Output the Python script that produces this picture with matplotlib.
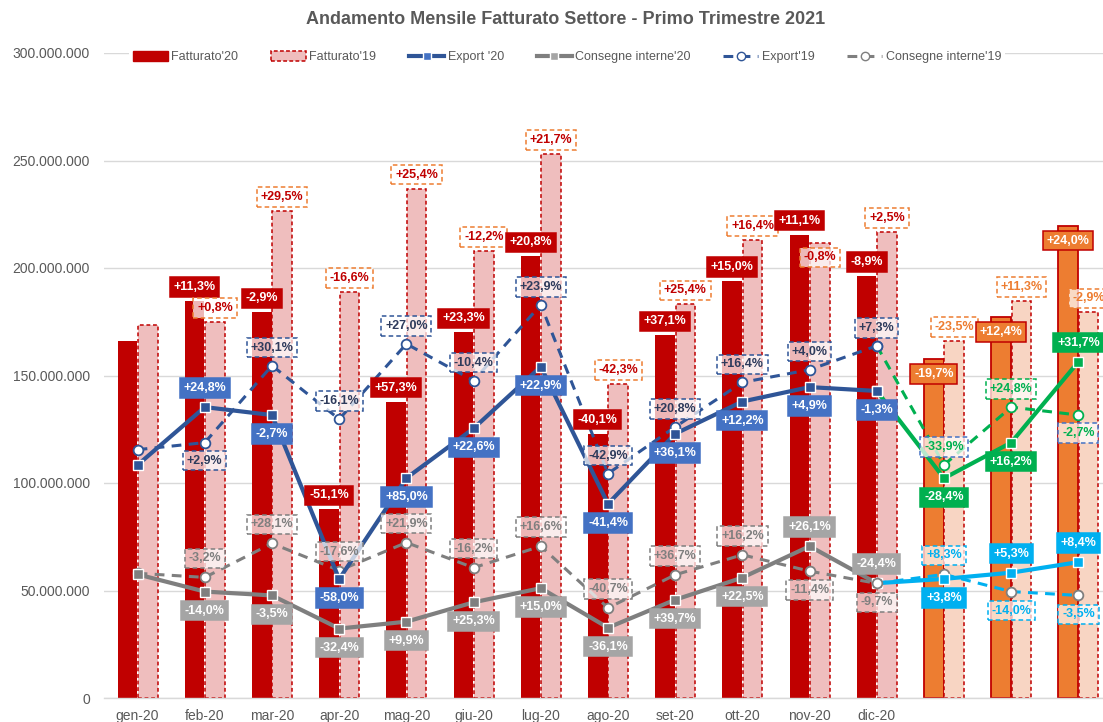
import matplotlib
matplotlib.use("Agg")
import matplotlib.pyplot as plt
from matplotlib import font_manager as fm
from matplotlib.patches import Patch
from matplotlib.lines import Line2D
from matplotlib.ticker import FuncFormatter
import numpy as np

# ---------------- DATA (values in millions of euro) ----------------
months = ['gen-20', 'feb-20', 'mar-20', 'apr-20', 'mag-20', 'giu-20',
          'lug-20', 'ago-20', 'set-20', 'ott-20', 'nov-20', 'dic-20']
months_21 = ['', '', '']  # first quarter 2021 (labels hidden in the original)

fatturato_20 = [166.0, 184.7, 179.4, 87.7, 137.9, 170.1, 205.4, 123.0, 168.7, 194.0, 215.5, 196.3]
fatturato_19 = [173.5, 174.9, 226.5, 188.9, 236.9, 208.0, 253.1, 146.0, 183.1, 213.1, 211.4, 216.7]
fatturato_21 = [157.6, 177.2, 219.7]
fatturato_20_q1 = [166.0, 184.7, 179.4]

export_20 = [108.4, 135.3, 131.6, 55.3, 102.3, 125.4, 154.1, 90.3, 122.9, 137.9, 144.6, 142.8]
export_19 = [115.5, 118.8, 154.6, 129.7, 164.7, 147.6, 182.9, 104.4, 126.1, 146.8, 152.7, 163.8]
export_21 = [102.2, 118.8, 156.4]
export_20_q1 = [108.4, 135.3, 131.6]

consegne_20 = [57.5, 49.5, 47.7, 32.3, 35.5, 44.5, 51.1, 32.7, 45.7, 56.0, 70.6, 53.4]
consegne_19 = [58.0, 56.1, 71.9, 59.3, 72.3, 60.6, 70.6, 41.9, 57.3, 66.6, 59.0, 53.3]
consegne_21 = [55.4, 58.3, 63.2]
consegne_20_q1 = [57.5, 49.5, 47.7]

lbl_fatt20 = ['', '+11,3%', '-2,9%', '-51,1%', '+57,3%', '+23,3%', '+20,8%', '-40,1%', '+37,1%', '+15,0%', '+11,1%', '-8,9%']
lbl_fatt19 = ['', '+0,8%', '+29,5%', '-16,6%', '+25,4%', '-12,2%', '+21,7%', '-42,3%', '+25,4%', '+16,4%', '-0,8%', '+2,5%']
lbl_fatt21 = ['-19,7%', '+12,4%', '+24,0%']
lbl_fatt20_q1 = ['-23,5%', '+11,3%', '-2,9%']
lbl_exp20 = ['', '+24,8%', '-2,7%', '-58,0%', '+85,0%', '+22,6%', '+22,9%', '-41,4%', '+36,1%', '+12,2%', '+4,9%', '-1,3%']
lbl_exp19 = ['', '+2,9%', '+30,1%', '-16,1%', '+27,0%', '-10,4%', '+23,9%', '-42,9%', '+20,8%', '+16,4%', '+4,0%', '+7,3%']
lbl_exp21 = ['-28,4%', '+16,2%', '+31,7%']
lbl_exp20_q1 = ['-33,9%', '+24,8%', '-2,7%']
lbl_cons20 = ['', '-14,0%', '-3,5%', '-32,4%', '+9,9%', '+25,3%', '+15,0%', '-36,1%', '+39,7%', '+22,5%', '+26,1%', '-24,4%']
lbl_cons19 = ['', '-3,2%', '+28,1%', '-17,6%', '+21,9%', '-16,2%', '+16,6%', '-40,7%', '+36,7%', '+16,2%', '-11,4%', '-9,7%']
lbl_cons21 = ['+3,8%', '+5,3%', '+8,4%']
lbl_cons20_q1 = ['+8,3%', '-14,0%', '-3,5%']

# ---------------- label placement (style: +1 above, -1 below) ----------------
pos_fatt20 = [1] * 12
pos_fatt19 = [1, 1, 1, 1, 1, 1, 1, 1, 1, 1, -1, 1]
pos_fatt21 = [-1, -1, -1]
pos_fatt20_q1 = [1, 1, 1]
pos_exp20 = [-1, 1, -1, -1, -1, -1, -1, -1, -1, -1, -1, -1]
pos_exp19 = [1, -1, 1, 1, 1, 1, 1, 1, 1, 1, 1, 1]
pos_exp21 = [-1, -1, 1]
pos_exp20_q1 = [1, 1, -1]
pos_cons20 = [-1, -1, -1, -1, -1, -1, -1, -1, -1, -1, 1, 1]
pos_cons19 = [1, 1, 1, 1, 1, 1, 1, 1, 1, 1, -1, -1]
pos_cons21 = [-1, 1, 1]
pos_cons20_q1 = [1, -1, -1]

# ---------------- fonts ----------------
names = {f.name for f in fm.fontManager.ttflist}
if 'Liberation Sans Narrow' in names:
    NARROW = 'Liberation Sans Narrow'
    s_title, s_lbl, s_leg = 15, 10.5, 10.5
else:
    NARROW = 'Liberation Sans'
    s_title, s_lbl, s_leg = 13, 9, 9
REG = 'Liberation Sans'
plt.rcParams['font.family'] = [NARROW, 'DejaVu Sans']

TXT = '#595959'
RED = '#C00000'
PINK = '#EFBEBE'
ORANGE = '#ED7D31'
PEACH = '#F8D5C3'
BLUE = '#2F5597'
BLUE_LBL = '#4472C4'
NAVY = '#2E3B5C'
GRAY = '#7F7F7F'
GRAY_LBL = '#A5A5A5'
GREEN = '#00B050'
CYAN = '#00B0F0'

fig = plt.figure(figsize=(11.03, 7.22), dpi=100)
W, H = 1103, 722
ax = fig.add_axes([104 / W, 24 / H, (W - 104) / W, (698 - 53) / H])

M = 1e6
x20 = np.arange(len(months))
x21 = np.arange(len(months), len(months) + len(months_21))
bw = 0.29
off = 0.152

# bars
ax.bar(x20 - off, np.array(fatturato_20) * M, bw, color=RED, zorder=2)
ax.bar(x20 + off, np.array(fatturato_19) * M, bw, color=PINK, edgecolor=RED,
       linewidth=1.1, linestyle=(0, (2.5, 1.8)), zorder=2)
ax.bar(x21 - off, np.array(fatturato_21) * M, bw, color=ORANGE, edgecolor=RED,
       linewidth=1.3, zorder=2)
ax.bar(x21 + off, np.array(fatturato_20_q1) * M, bw, color=PEACH, edgecolor=RED,
       linewidth=1.1, linestyle=(0, (2.5, 1.8)), zorder=2)

dash = (0, (3.2, 2.4))
def solid_line(xs, ys, color, z=3):
    ax.plot(xs, np.array(ys) * M, color=color, lw=3, marker='s', ms=6.5,
            mfc=color, mec='white', mew=1.0, zorder=z, solid_capstyle='round')

def dashed_line(xs, ys, color, z=3):
    ax.plot(xs, np.array(ys) * M, color=color, lw=2.2, linestyle=dash, marker='o', ms=7,
            mfc='white', mec=color, mew=1.3, zorder=z)

# 2020 vs 2019 lines
dashed_line(x20, consegne_19, GRAY)
solid_line(x20, consegne_20, GRAY)
dashed_line(x20, export_19, BLUE)
solid_line(x20, export_20, BLUE)

# 2021 continuation lines (start at dic-20 point)
xc = np.concatenate([[x20[-1]], x21])
ax.plot(xc, np.array([consegne_19[-1]] + consegne_20_q1) * M, color=CYAN, lw=2.2,
        linestyle=dash, zorder=3.2)
ax.plot(xc, np.array([consegne_20[-1]] + consegne_21) * M, color=CYAN, lw=3, zorder=3.2)
ax.plot(xc, np.array([export_19[-1]] + export_20_q1) * M, color=GREEN, lw=2.2,
        linestyle=dash, zorder=3.2)
ax.plot(xc, np.array([export_20[-1]] + export_21) * M, color=GREEN, lw=3, zorder=3.2)
for ys, c in [(consegne_20_q1, GRAY), (export_20_q1, GREEN)]:
    ax.plot(x21, np.array(ys) * M, linestyle='none', marker='o', ms=7, mfc='white',
            mec=c, mew=1.3, zorder=3.3)
for ys, c in [(consegne_21, CYAN), (export_21, GREEN)]:
    ax.plot(x21, np.array(ys) * M, linestyle='none', marker='s', ms=6.5, mfc=c,
            mec='white', mew=1.0, zorder=3.3)
# redraw dic-20 markers on top
ax.plot([x20[-1]], [export_19[-1] * M], 'o', ms=7, mfc='white', mec=BLUE, mew=1.3, zorder=3.4)
ax.plot([x20[-1]], [export_20[-1] * M], 's', ms=6.5, mfc=BLUE, mec='white', mew=1.0, zorder=3.4)
ax.plot([x20[-1]], [consegne_19[-1] * M], 'o', ms=7, mfc='white', mec=GRAY, mew=1.3, zorder=3.4)

PX = 0.72  # points per pixel at 100 dpi

def put(x, y, txt, pos, dist, fc, ec, tc, ls='-', z=6):
    if not txt:
        return
    ax.annotate(txt, (x, y * M), xytext=(0, pos * dist * PX), textcoords='offset points',
                ha='center', va='center', fontsize=s_lbl, fontweight='bold', color=tc, zorder=z,
                bbox=dict(boxstyle='square,pad=0.3', fc=fc, ec=ec, ls=ls, lw=1.1))

WHITE_A = (1, 1, 1, 0.72)
DL = (0, (3, 2))
for i in range(len(months)):
    put(x20[i] - off, fatturato_20[i], lbl_fatt20[i], pos_fatt20[i], 14, RED, RED, 'white')
    put(x20[i] + off, fatturato_19[i], lbl_fatt19[i], pos_fatt19[i], 14, WHITE_A, ORANGE, RED, DL)
    put(x20[i], export_20[i], lbl_exp20[i], pos_exp20[i], 19, BLUE_LBL, BLUE_LBL, 'white')
    put(x20[i], export_19[i], lbl_exp19[i], pos_exp19[i], 18, WHITE_A, BLUE, NAVY, DL)
    put(x20[i], consegne_20[i], lbl_cons20[i], pos_cons20[i], 19, GRAY_LBL, GRAY_LBL, 'white')
    put(x20[i], consegne_19[i], lbl_cons19[i], pos_cons19[i], 19, WHITE_A, GRAY, GRAY, DL)

exp_q1_edges = [BLUE_LBL, GREEN, BLUE_LBL]
for j in range(len(months_21)):
    put(x21[j] - off, fatturato_21[j], lbl_fatt21[j], pos_fatt21[j], 15, ORANGE, RED, 'white')
    put(x21[j] + off, fatturato_20_q1[j], lbl_fatt20_q1[j], pos_fatt20_q1[j], 14, WHITE_A, ORANGE, ORANGE, DL)
    put(x21[j], export_21[j], lbl_exp21[j], pos_exp21[j], 19, GREEN, GREEN, 'white')
    put(x21[j], export_20_q1[j], lbl_exp20_q1[j], pos_exp20_q1[j], 18, WHITE_A, exp_q1_edges[j], GREEN, DL)
    put(x21[j], consegne_21[j], lbl_cons21[j], pos_cons21[j], 19, CYAN, CYAN, 'white')
    put(x21[j], consegne_20_q1[j], lbl_cons20_q1[j], pos_cons20_q1[j], 19, WHITE_A, CYAN, CYAN, DL)

# axes styling
ax.set_xlim(-0.5, 14.366)
ax.set_ylim(0, 300 * M)
ax.set_yticks(np.arange(0, 301, 50) * M)
ax.yaxis.set_major_formatter(FuncFormatter(lambda v, p: f"{v:,.0f}".replace(',', '.')))
ax.set_xticks(np.concatenate([x20, x21]))
ax.set_xticklabels(months + months_21)
ax.tick_params(axis='both', length=0, colors=TXT)
ax.tick_params(axis='y', pad=10)
ax.tick_params(axis='x', pad=8)
for t in ax.get_yticklabels():
    t.set_fontfamily(REG); t.set_fontsize(10)
for t in ax.get_xticklabels():
    t.set_fontfamily(REG); t.set_fontsize(10)
ax.yaxis.grid(True, color='#D9D9D9', lw=1)
ax.set_axisbelow(True)
for s in ['top', 'right', 'left']:
    ax.spines[s].set_visible(False)
ax.spines['bottom'].set_color('#D9D9D9')
ax.spines['bottom'].set_linewidth(1)

# title
fig.text(566 / W, 1 - 20 / H, 'Andamento Mensile Fatturato Settore - Primo Trimestre 2021',
         ha='center', va='center', fontsize=s_title, fontweight='bold', color=TXT)

# legend
handles = [
    Patch(facecolor=RED, edgecolor=RED),
    Patch(facecolor=PINK, edgecolor=RED, linestyle=(0, (2.5, 1.5)), linewidth=1.1),
    Line2D([], [], color=BLUE, lw=3, marker='s', ms=6, mfc=BLUE_LBL, mec='white'),
    Line2D([], [], color=GRAY, lw=3, marker='s', ms=6, mfc=GRAY_LBL, mec='white'),
    Line2D([], [], color=BLUE, lw=2.2, linestyle=dash, marker='o', ms=6, mfc='white', mec=BLUE),
    Line2D([], [], color=GRAY, lw=2.2, linestyle=dash, marker='o', ms=6, mfc='white', mec=GRAY),
]
labels = ["Fatturato'20", "Fatturato'19", "Export '20", "Consegne interne'20",
          "Export'19", "Consegne interne'19"]
leg = fig.legend(handles, labels, loc='center', bbox_to_anchor=(567 / W, 1 - 57 / H),
                 ncol=6, frameon=True, fontsize=s_leg, handlelength=2.8, handleheight=0.9,
                 handletextpad=0.3, columnspacing=2.6, borderpad=0.3)
leg.get_frame().set_facecolor('white')
leg.get_frame().set_edgecolor('none')
leg.get_frame().set_alpha(1)
for t in leg.get_texts():
    t.set_color(TXT)

fig.savefig('out.png', dpi=100)
